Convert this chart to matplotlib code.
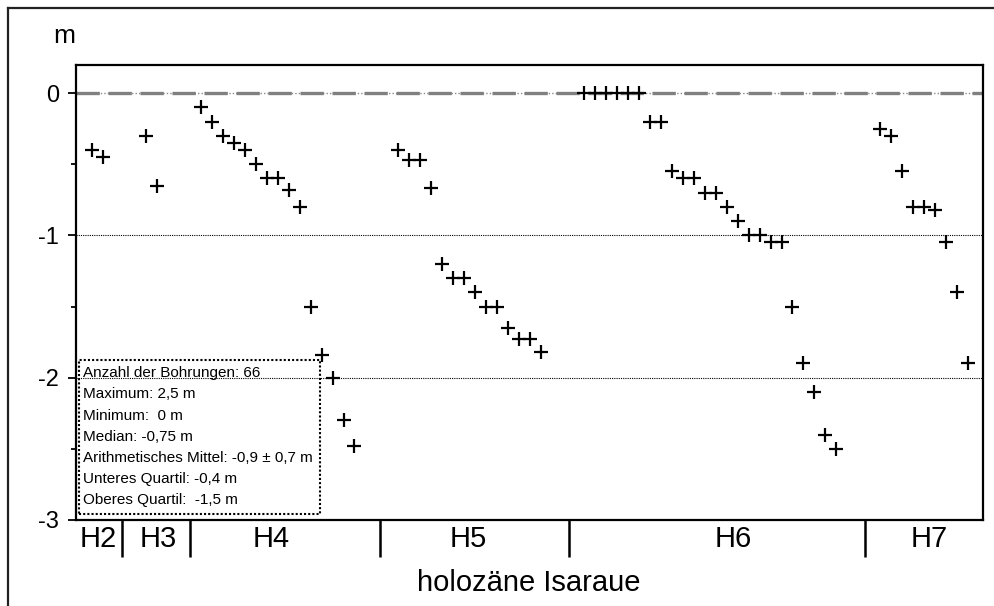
import numpy as np
import matplotlib
matplotlib.use("Agg")
import matplotlib.pyplot as plt
from matplotlib import font_manager
from matplotlib.patches import Rectangle
from matplotlib.lines import Line2D
import matplotlib.transforms as mtransforms

# ---------------- data ----------------
groups = ["H2", "H3", "H4", "H5", "H6", "H7"]
group_start = [0, 5, 10, 28, 45, 72]
h2 = [-0.40, -0.45]
h3 = [-0.30, -0.65]
h4 = [-0.10, -0.20, -0.30, -0.35, -0.40, -0.50, -0.60, -0.60, -0.68, -0.80,
      -1.50, -1.84, -2.00, -2.30, -2.48]
h5 = [-0.40, -0.47, -0.47, -0.67, -1.20, -1.30, -1.30, -1.40, -1.50, -1.50,
      -1.65, -1.73, -1.73, -1.82]
h6 = [0, 0, 0, 0, 0, 0, -0.20, -0.20, -0.55, -0.60, -0.60, -0.70, -0.70,
      -0.80, -0.90, -1.00, -1.00, -1.05, -1.05, -1.50, -1.90, -2.10, -2.40, -2.50]
h7 = [-0.25, -0.30, -0.55, -0.80, -0.80, -0.82, -1.05, -1.40, -1.90]
group_values = [h2, h3, h4, h5, h6, h7]
group_bounds = [2.8, 9.0, 26.3, 43.6, 70.6]
group_label_x = [0.6, 6.05, 16.4, 34.4, 58.6, 76.5]
y_ticks = [0, -1, -2, -3]
y_ticklabels = ["0", "-1", "-2", "-3"]
stats_lines = [
    "Anzahl der Bohrungen: 66",
    "Maximum: 2,5 m",
    "Minimum:  0 m",
    "Median: -0,75 m",
    "Arithmetisches Mittel: -0,9 \u00b1 0,7 m",
    "Unteres Quartil: -0,4 m",
    "Oberes Quartil:  -1,5 m",
]
x_title = "holoz\u00e4ne Isaraue"
y_unit = "m"

# ---------------- fonts ----------------
names = {f.name for f in font_manager.fontManager.ttflist}
main_font = "Liberation Sans" if "Liberation Sans" in names else "DejaVu Sans"
narrow = "Liberation Sans Narrow" if "Liberation Sans Narrow" in names else None
plt.rcParams["font.family"] = [main_font, "DejaVu Sans"]

W, H = 995, 606
fig = plt.figure(figsize=(W / 100, H / 100), dpi=100)
ax_l, ax_r, ax_t, ax_b = 76, 983, 65, 520
ax = fig.add_axes([ax_l / W, 1 - ax_b / H, (ax_r - ax_l) / W, (ax_b - ax_t) / H])

# zero line: thin dotted + thick dashes
ax.axhline(0, color="#8a8a8a", lw=1.0, ls=(0, (1, 1.5)), zorder=1)
ax.axhline(0, color="#808080", lw=2.4, ls=(0, (7.0, 2.6)), zorder=1.5)
# dotted gridlines
for yv in (-1, -2):
    ax.axhline(yv, color="black", lw=0.8, ls=(0, (1, 1)), zorder=1)

# data points
for start, vals in zip(group_start, group_values):
    xs = start + np.arange(len(vals))
    ax.plot(xs, vals, ls="none", marker="+", ms=9.5, mew=1.6, color="black", zorder=3)

ax.set_xlim(-1.43, 81.4)
ax.set_ylim(-3, 0.197)

ax.set_xticks([])
ax.set_yticks(y_ticks)
ax.set_yticklabels(y_ticklabels, fontsize=17)
ax.set_yticks([-0.5, -1.5, -2.5], minor=True)
ax.tick_params(axis="y", which="major", direction="out", length=6, width=1.3, pad=6)
ax.tick_params(axis="y", which="minor", direction="out", length=3.5, width=1.3)
for s in ax.spines.values():
    s.set_linewidth(1.6)
    s.set_color("black")

# group separators and labels below the axis
trans = mtransforms.blended_transform_factory(ax.transData, ax.transAxes)
sep_len = (557 - 520) / (ax_b - ax_t)
for b in group_bounds:
    ax.plot([b, b], [0, -sep_len], transform=trans, color="black", lw=1.8,
            clip_on=False, solid_capstyle="butt")
lab_y = -(539 - 520) / (ax_b - ax_t)
for gx, g in zip(group_label_x, groups):
    ax.text(gx, lab_y, g, transform=trans, ha="center", va="center", fontsize=21)

fig.text(529 / W, 1 - 583 / H, x_title, ha="center", va="center", fontsize=21)
fig.text(64 / W, 1 - 36 / H, y_unit, ha="center", va="center", fontsize=19)

# statistics box
bx0, bx1, by0, by1 = 78.5, 320, 360, 514
fig.patches.append(Rectangle((bx0 / W, 1 - by1 / H), (bx1 - bx0) / W, (by1 - by0) / H,
                             transform=fig.transFigure, fill=False, ec="black",
                             lw=1.5, ls=(0, (1, 1)), zorder=5))
line_y0 = 373.3
line_dy = 21.1
for i, t in enumerate(stats_lines):
    if narrow:
        fig.text(83.5 / W, 1 - (line_y0 + i * line_dy) / H, t, ha="left", va="center",
                 fontsize=13, family=[narrow, "DejaVu Sans"], zorder=6)
    else:
        fig.text(83.5 / W, 1 - (line_y0 + i * line_dy) / H, t, ha="left", va="center",
                 fontsize=11, family=[main_font, "DejaVu Sans"], zorder=6)

# figure frame (left and top only visible)
fig.lines.append(Line2D([8 / W, 8 / W], [0, 1 - 8 / H], transform=fig.transFigure,
                        color="#222222", lw=1.6))
fig.lines.append(Line2D([8 / W, 1], [1 - 8 / H, 1 - 8 / H], transform=fig.transFigure,
                        color="#222222", lw=1.6))

fig.savefig("out.png", dpi=100)
